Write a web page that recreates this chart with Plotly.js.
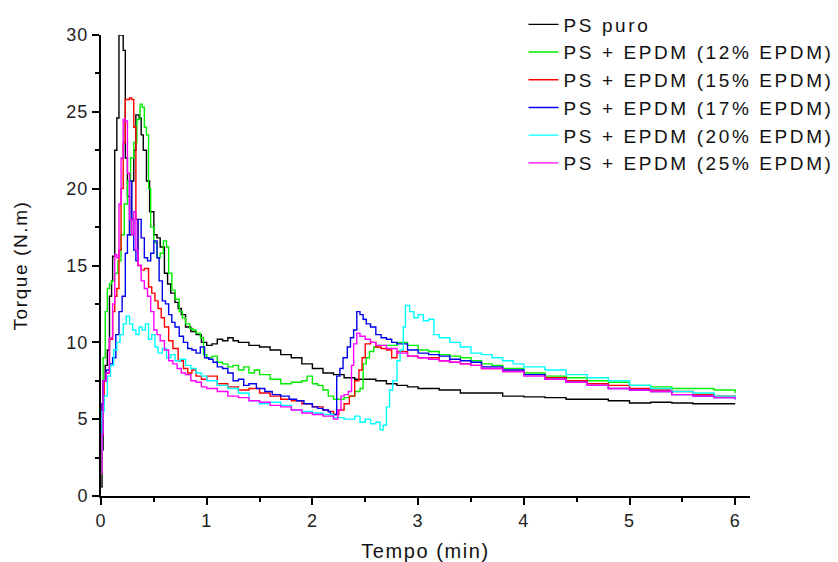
<!DOCTYPE html>
<html><head><meta charset="utf-8">
<script src="https://cdn.plot.ly/plotly-3.0.1.min.js"></script>
<style>
body{margin:0;background:#fff}#c{width:838px;height:562px}
.legendtext{letter-spacing:2.6px}
.xtitle,.ytitle{letter-spacing:1.6px}
.xtick text,.ytick text{letter-spacing:1px}
</style>
</head><body><div id="c"></div>
<script>
const seriesNames = ["PS puro","PS + EPDM (12% EPDM)","PS + EPDM (15% EPDM)","PS + EPDM (17% EPDM)","PS + EPDM (20% EPDM)","PS + EPDM (25% EPDM)"];
const seriesColors = ["#000000","#00ee00","#ff0000","#0000ee","#00ffff","#ff00ff"];

const tBlack = [0,0.01,0.02,0.04,0.06,0.08,0.1,0.11,0.13,0.15,0.17,0.19,0.21,0.23,0.25,0.27,0.29,0.31,0.33,0.36,0.38,0.4,0.43,0.46,0.5,0.53,0.56,0.6,0.63,0.66,0.7,0.73,0.76,0.8,0.85,0.9,0.95,1.0,1.05,1.1,1.15,1.2,1.25,1.3,1.4,1.5,1.6,1.7,1.8,1.9,2.0,2.1,2.2,2.3,2.4,2.5,2.6,2.7,2.8,2.9,3.0,3.2,3.4,3.6,3.8,4.0,4.2,4.4,4.6,4.8,5.0,5.2,5.4,5.6,5.8,6.0];
const vBlack = [0.6,3,7.5,8.5,9.5,13,14,15.6,22.5,24.6,30,30,29,22,19.5,17,20.5,22.5,24.8,24.6,23.5,22.5,20.5,18.5,17,16.8,16.2,14.5,13.8,13.2,12.6,12.2,11.8,11.0,10.7,10.5,10.0,9.8,9.9,10.2,10.1,10.3,10.1,10.0,9.8,9.7,9.5,9.2,9.0,8.6,8.3,8.0,7.9,7.7,7.6,7.6,7.5,7.3,7.2,7.1,7.0,6.9,6.7,6.7,6.5,6.45,6.4,6.3,6.3,6.2,6.05,6.1,6.05,6.0,6.0,6.0];

const tGreen = [0,0.01,0.02,0.04,0.06,0.08,0.1,0.13,0.16,0.19,0.22,0.25,0.28,0.31,0.34,0.37,0.39,0.41,0.43,0.45,0.47,0.5,0.53,0.56,0.59,0.62,0.64,0.67,0.7,0.74,0.77,0.8,0.84,0.87,0.9,0.94,0.97,1.0,1.05,1.1,1.15,1.2,1.25,1.3,1.35,1.4,1.45,1.5,1.6,1.7,1.8,1.9,1.95,2.0,2.05,2.1,2.15,2.2,2.25,2.3,2.35,2.4,2.45,2.48,2.51,2.54,2.58,2.62,2.7,2.8,2.9,3.0,3.1,3.2,3.3,3.4,3.5,3.6,3.7,3.8,4.0,4.2,4.4,4.6,4.8,5.0,5.2,5.4,5.6,5.8,6.0];
const vGreen = [1.5,5,9,12,13.5,13.8,14,14.5,15.3,17,19,20.5,22,23,24.5,25.5,25.3,24,23.5,20,17.5,16.5,15.5,15.8,16.6,16.2,14.5,13.4,12.8,12,11.6,11.2,10.9,10.8,10.6,10.3,9.2,9.0,9.1,8.7,8.6,8.4,8.5,8.2,8.4,8.0,8.2,7.9,7.6,7.3,7.4,7.5,7.8,7.3,7.2,6.9,6.5,6.3,6.3,6.4,6.5,6.8,7.0,8.6,9.0,9.4,9.7,9.8,9.8,10.0,9.8,9.5,9.4,9.2,9.1,9.0,8.8,8.6,8.5,8.3,8.0,7.8,7.7,7.5,7.4,7.2,7.1,7.0,7.0,6.9,6.7];

const tRed = [0,0.01,0.03,0.05,0.08,0.11,0.13,0.15,0.17,0.19,0.21,0.23,0.25,0.27,0.29,0.31,0.33,0.35,0.38,0.41,0.45,0.48,0.51,0.54,0.57,0.6,0.64,0.68,0.73,0.78,0.82,0.86,0.9,0.95,1.0,1.1,1.2,1.3,1.4,1.5,1.6,1.7,1.8,1.9,2.0,2.1,2.15,2.2,2.25,2.3,2.35,2.4,2.44,2.47,2.5,2.55,2.6,2.65,2.7,2.75,2.8,2.9,3.0,3.1,3.2,3.3,3.4,3.5,3.6,3.8,4.0,4.2,4.4,4.6,4.8,5.0,5.2,5.4,5.6,5.8,6.0];
const vRed = [3,6,7.5,8,10.2,12,13,13.5,16,20,23,25.8,25.8,25.9,25.8,24,18,15,14.7,14.8,13.6,13.2,12.7,12.2,11.6,11.0,10.1,9.6,8.8,8.3,8.0,8.2,7.8,7.6,7.8,7.3,7.1,6.9,7.0,6.7,6.5,6.3,6.2,6.0,5.8,5.6,5.5,5.3,5.6,6.0,6.5,7.5,8.2,9.0,9.9,10.0,9.7,9.6,9.5,9.0,9.4,9.1,9.0,9.0,8.8,8.7,8.6,8.5,8.3,8.1,7.9,7.7,7.5,7.3,7.2,7.0,6.9,6.8,6.6,6.5,6.4];

const tBlue = [0,0.01,0.02,0.05,0.08,0.11,0.14,0.17,0.2,0.23,0.25,0.27,0.29,0.31,0.33,0.35,0.38,0.41,0.44,0.47,0.5,0.53,0.55,0.58,0.61,0.64,0.67,0.7,0.74,0.78,0.82,0.86,0.9,0.94,0.98,1.02,1.06,1.1,1.15,1.2,1.25,1.3,1.35,1.4,1.47,1.55,1.62,1.7,1.78,1.85,1.92,2.0,2.05,2.1,2.15,2.17,2.2,2.23,2.26,2.29,2.33,2.36,2.39,2.42,2.45,2.48,2.51,2.55,2.6,2.65,2.7,2.75,2.8,2.9,3.0,3.1,3.2,3.3,3.4,3.5,3.6,3.8,4.0,4.2,4.4,4.6,4.8,5.0,5.2,5.4,5.6,5.8,6.0];
const vBlue = [4,6,7.5,8.2,8.6,9.0,10.5,12,13,15.8,17,20.5,18,16,15.3,18,16.8,15.5,15.3,15.8,16.6,15.5,14,12.7,12.5,11.8,11.3,11.0,10.4,10.0,9.6,9.5,9.3,9.7,9.0,8.9,8.7,8.4,8.3,8.0,7.5,7.6,7.2,7.3,7.0,6.8,6.6,6.5,6.3,6.2,6.0,5.8,5.7,5.6,5.5,5.3,5.3,7.8,8.3,9.0,9.7,10.3,10.8,12.0,11.8,11.5,11.2,11.0,10.5,10.3,10.2,10.0,9.9,9.5,9.3,9.2,9.1,8.9,8.8,8.7,8.4,8.2,7.9,7.6,7.4,7.2,7.0,6.9,6.8,6.6,6.5,6.4,6.3];

const tCyan = [0,0.01,0.03,0.06,0.09,0.12,0.15,0.18,0.21,0.24,0.27,0.3,0.33,0.36,0.39,0.42,0.45,0.48,0.51,0.54,0.58,0.62,0.66,0.7,0.75,0.8,0.85,0.9,0.95,1.0,1.1,1.2,1.3,1.4,1.5,1.6,1.7,1.8,1.9,2.0,2.1,2.2,2.3,2.4,2.45,2.5,2.55,2.6,2.64,2.67,2.7,2.73,2.76,2.8,2.83,2.86,2.88,2.92,2.96,3.0,3.05,3.1,3.15,3.2,3.3,3.4,3.5,3.6,3.7,3.8,3.9,4.0,4.2,4.4,4.6,4.8,5.0,5.2,5.4,5.6,5.8,6.0];
const vCyan = [3,5.5,6.5,7.8,8.5,9.5,10,10.5,11.2,11.7,11.2,10.8,10.5,11.0,10.8,11.2,10.2,10.5,9.7,9.3,9.6,9.0,9.2,8.8,8.9,8.5,8.3,8.0,7.8,7.5,7.2,7.0,6.7,6.2,6.0,6.1,5.9,5.6,5.5,5.4,5.3,5.1,5.0,5.2,4.8,5.0,4.7,4.8,4.3,4.6,5.8,6.9,7.5,8.8,9.5,11.0,12.4,12.0,11.6,11.8,11.4,11.5,10.5,10.3,10.0,9.7,9.3,9.2,9.0,8.8,8.6,8.4,8.2,7.9,7.7,7.5,7.2,7.0,6.8,6.7,6.5,6.3];

const tMagenta = [0,0.01,0.02,0.05,0.08,0.11,0.13,0.15,0.17,0.19,0.21,0.23,0.25,0.27,0.29,0.31,0.33,0.35,0.38,0.41,0.44,0.47,0.5,0.53,0.56,0.6,0.64,0.68,0.72,0.76,0.8,0.85,0.9,0.95,1.0,1.1,1.2,1.3,1.4,1.5,1.6,1.7,1.8,1.9,2.0,2.1,2.2,2.24,2.27,2.3,2.34,2.37,2.39,2.42,2.45,2.5,2.55,2.6,2.7,2.8,2.9,3.0,3.1,3.2,3.3,3.4,3.5,3.6,3.8,4.0,4.2,4.4,4.6,4.8,5.0,5.2,5.4,5.6,5.8,6.0];
const vMagenta = [1.5,4,7.5,8,10.3,12.5,15.7,15.5,19,22,24.5,24.4,21,18,17,18.5,16,15,14,13.5,13,12,10.8,10.5,10.1,9.5,8.8,8.6,8.3,8.0,7.9,7.5,7.4,7.1,7.0,6.8,6.5,6.4,6.2,6.1,5.9,5.8,5.6,5.4,5.3,5.2,5.0,5.6,6.5,6.6,6.8,8.5,9.9,10.6,10.4,10.2,10.0,9.8,9.6,9.3,9.1,9.0,8.9,8.8,8.7,8.6,8.5,8.3,8.1,7.8,7.6,7.4,7.2,7.0,6.9,6.8,6.6,6.5,6.4,6.3];

const xTickVals = [0,1,2,3,4,5,6];
const yTickVals = [0,5,10,15,20,25,30];

const xs = [tBlack,tGreen,tRed,tBlue,tCyan,tMagenta];
const ys = [vBlack,vGreen,vRed,vBlue,vCyan,vMagenta];

const traces = seriesNames.map((n,i)=>({
  x: xs[i], y: ys[i], name: n, type: 'scatter', mode: 'lines',
  line: {color: seriesColors[i], width: 1.4, shape: 'hv'}
}));

const fontFam = 'Liberation Sans, Arial, sans-serif';
const layout = {
  width: 838, height: 562,
  margin: {l: 101, r: 88, t: 35, b: 66, autoexpand: false},
  paper_bgcolor: '#fff', plot_bgcolor: '#fff',
  showlegend: true,
  legend: {x: 0.651, y: 1.064, xanchor: 'left', yanchor: 'top', bgcolor: 'rgba(0,0,0,0)',
    font: {family: fontFam, size: 19, color: '#111'}, tracegroupgap: 0},
  xaxis: {range: [0, 6.14], tickvals: xTickVals, ticktext: xTickVals.map(String),
    showgrid: false, zeroline: false, showline: true, linecolor: '#000', linewidth: 2,
    ticks: 'outside', ticklen: 7, tickwidth: 2, tickcolor: '#000',
    minor: {dtick: 0.5, ticks: 'outside', ticklen: 4, tickwidth: 2, tickcolor: '#000', showgrid: false},
    tickfont: {family: fontFam, size: 18, color: '#222'},
    title: {text: 'Tempo (min)', font: {family: fontFam, size: 20, color: '#111'}, standoff: 14},
    automargin: false},
  yaxis: {range: [0, 30], tickvals: yTickVals, ticktext: yTickVals.map(String),
    showgrid: false, zeroline: false, showline: true, linecolor: '#000', linewidth: 2,
    ticks: 'outside', ticklen: 7, tickwidth: 2, tickcolor: '#000',
    minor: {dtick: 2.5, ticks: 'outside', ticklen: 4, tickwidth: 2, tickcolor: '#000', showgrid: false},
    tickfont: {family: fontFam, size: 18, color: '#222'},
    title: {text: 'Torque (N.m)', font: {family: fontFam, size: 19, color: '#111'}, standoff: 34},
    automargin: false}
};
Plotly.newPlot('c', traces, layout, {displayModeBar: false, staticPlot: true});
</script></body></html>
